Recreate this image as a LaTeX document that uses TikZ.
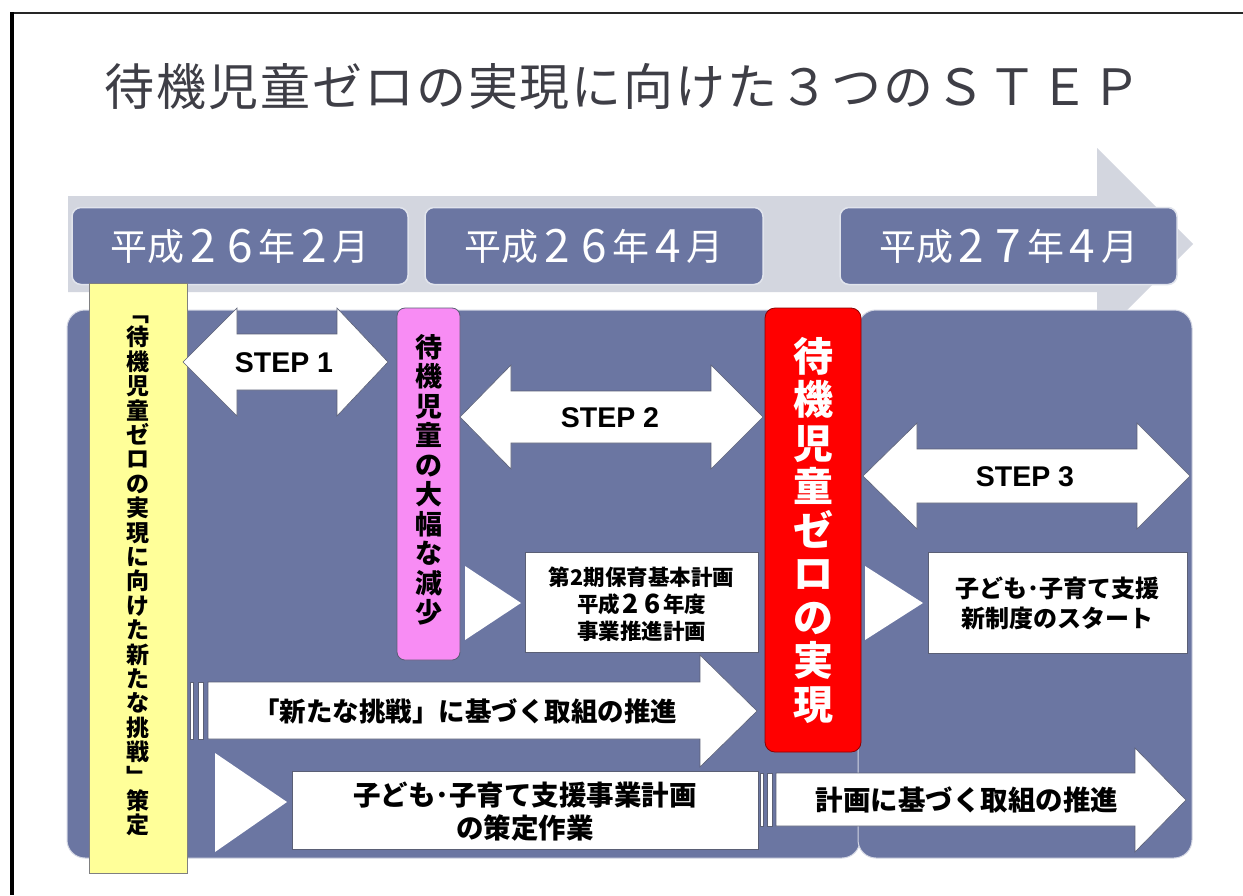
\documentclass[tikz,border=0pt]{standalone}
\usepackage{fontspec}
\setmainfont{Noto Sans CJK JP}
\newfontfamily\titlefont[LetterSpace=4]{Noto Sans CJK JP}
\newfontfamily\datefont{Noto Sans CJK JP}
\newfontfamily\stepfont{Liberation Sans}
\newcommand\dgt[4]{\makebox[#1pt]{\raisebox{#3pt}{\fontsize{#2}{#2}\selectfont #4}}}
\newcommand\dL[1]{\dgt{37}{46}{-2}{#1}}
\newcommand\dS[1]{\dgt{21.5}{26.5}{-1}{#1}}
\definecolor{slate}{HTML}{6B76A2}
\definecolor{bandgray}{HTML}{D3D6DF}
\definecolor{yellowbox}{HTML}{FFFF99}
\definecolor{pinkbox}{HTML}{F88CF4}
\definecolor{redbox}{HTML}{FF0000}
\definecolor{titlegray}{HTML}{3E3E46}
\definecolor{edgegray}{HTML}{5A5F75}
\begin{document}
\begin{tikzpicture}[x=1pt,y=-1pt,
  shapew/.style={fill=white, draw=edgegray, line width=0.6pt, line join=miter},
  datebox/.style={fill=slate, draw=white!80!slate, line width=1.5pt, rounded corners=9pt, text=white, font=\datefont\fontsize{37}{37}\selectfont, inner sep=0pt},
  whitebox/.style={fill=white, draw=edgegray, line width=0.6pt, inner sep=0pt, align=center},
  vbox/.style={draw=edgegray, line width=0.8pt, inner sep=0pt},
  vtext/.style={align=center, inner sep=0pt},
  steplabel/.style={font=\stepfont\bfseries\fontsize{28.5}{28.5}\selectfont, inner sep=0pt},
  arrowlabel/.style={font=\bfseries\fontsize{26}{26}\selectfont, inner sep=0pt}
]
\useasboundingbox (0,0) rectangle (1243,895);
\fill[white] (0,0) rectangle (1243,895);
% frame
\draw[line width=2pt, black!85] (10,13) -- (1243,13);
\fill[black] (10,12) rectangle (13.5,895);
% title
\node[font=\titlefont\fontsize{50}{50}\selectfont, text=titlegray, inner sep=0pt] (title) at (623,87) {待機児童ゼロの実現に向けた３つのＳＴＥＰ};
% background time arrow
\fill[bandgray] (68,196) -- (1097,196) -- (1097,148) -- (1193,244) -- (1097,340) -- (1097,292) -- (68,292) -- cycle;
% dates
\node[datebox, minimum width=336pt, minimum height=77pt] (d1) at (240,246) {平成\dL{2}\dL{6}年\dL{2}月};
\node[datebox, minimum width=338pt, minimum height=77pt] (d2) at (594,246) {平成\dL{2}\dL{6}年\dL{4}月};
\node[datebox, minimum width=337pt, minimum height=77pt] (d3) at (1008.5,246) {平成\dL{2}\dL{7}年\dL{4}月};
% panels
\draw[fill=slate, draw=white!70!slate, line width=1pt, rounded corners=18pt] (67,310) rectangle (860,858);
\draw[fill=slate, draw=white!70!slate, line width=1pt, rounded corners=18pt] (858,310) rectangle (1192,858);
% yellow box
\node[vbox, fill=yellowbox, draw=gray, minimum width=98pt, minimum height=590pt] (ybox) at (138,578) {};
\node[vtext, font=\bfseries\fontsize{23}{24.4}\selectfont] (ytext) at (138,576) {﹁\\待\\機\\児\\童\\ゼ\\ロ\\の\\実\\現\\に\\向\\け\\た\\新\\た\\な\\挑\\戦\\﹂\\策\\定};
% pink box
\node[vbox, fill=pinkbox, rounded corners=8pt, minimum width=63pt, minimum height=352pt] (pbox) at (428.5,484) {};
\node[vtext, font=\bfseries\fontsize{27}{29.5}\selectfont] (ptext) at (428.5,480) {待\\機\\児\\童\\の\\大\\幅\\な\\減\\少};
% red box
\node[vbox, fill=redbox, draw=red!55!black, rounded corners=10pt, minimum width=96pt, minimum height=444pt] (rbox) at (813,530) {};
\node[vtext, text=white, font=\bfseries\fontsize{40}{43.5}\selectfont] (rtext) at (813,530) {待\\機\\児\\童\\ゼ\\ロ\\の\\実\\現};
% STEP arrows
\draw[shapew] (183,362) -- (237,308) -- (237,334) -- (337,334) -- (337,308) -- (388,362) -- (337,416) -- (337,390) -- (237,390) -- (237,416) -- cycle;
\node[steplabel] (s1) at (284,363) {STEP 1};
\draw[shapew] (460,417) -- (511,365) -- (511,391) -- (711,391) -- (711,365) -- (763,417) -- (711,469) -- (711,443) -- (511,443) -- (511,469) -- cycle;
\node[steplabel] (s2) at (610,418) {STEP 2};
\draw[shapew] (863,476) -- (917,423) -- (917,449) -- (1137,449) -- (1137,423) -- (1190,476) -- (1137,529) -- (1137,503) -- (917,503) -- (917,529) -- cycle;
\node[steplabel] (s3) at (1025,477) {STEP 3};
% triangles and boxes
\fill[white] (465,566) -- (521,603) -- (465,640) -- cycle;
\node[whitebox, minimum width=233pt, minimum height=100pt] (plan2) at (641.5,602.5) {};
\node[vtext, font=\bfseries\fontsize{21.5}{27}\selectfont] (plan2t) at (641.5,604) {第2期保育基本計画\\平成\dS{2}\dS{6}年度\\事業推進計画};
\fill[white] (865,566) -- (923,603) -- (865,640) -- cycle;
\node[whitebox, minimum width=259pt, minimum height=101pt] (newsys) at (1057.5,602.5) {};
\node[vtext, font=\bfseries\fontsize{24}{30}\selectfont] (newsyst) at (1057.5,603) {子ども･子育て支援\\新制度のスタート};
% long arrow 1
\draw[shapew] (190,682) rectangle (193,739);
\draw[shapew] (198,682) rectangle (203,739);
\draw[shapew] (208,682) -- (700,682) -- (700,655) -- (757,711) -- (700,767) -- (700,739) -- (208,739) -- cycle;
\node[arrowlabel, font=\bfseries\fontsize{26.5}{26.5}\selectfont] (a1) at (465,711) {「新たな挑戦」に基づく取組の推進};
% bottom triangle and box
\fill[white] (215,753) -- (287,802) -- (215,852) -- cycle;
\node[whitebox, minimum width=466pt, minimum height=78pt] (jigyo) at (525,810) {};
\node[vtext, font=\bfseries\fontsize{27.5}{33}\selectfont] (jigyot) at (525,812) {子ども･子育て支援事業計画\\の策定作業};
% long arrow 2
\draw[shapew] (760,773) rectangle (763,826);
\draw[shapew] (767,773) rectangle (772,826);
\draw[shapew] (776,773) -- (1135,773) -- (1135,748) -- (1186,800) -- (1135,852) -- (1135,826) -- (776,826) -- cycle;
\node[arrowlabel, font=\bfseries\fontsize{27.5}{27.5}\selectfont] (a2) at (967,800) {計画に基づく取組の推進};
\end{tikzpicture}
\end{document}
